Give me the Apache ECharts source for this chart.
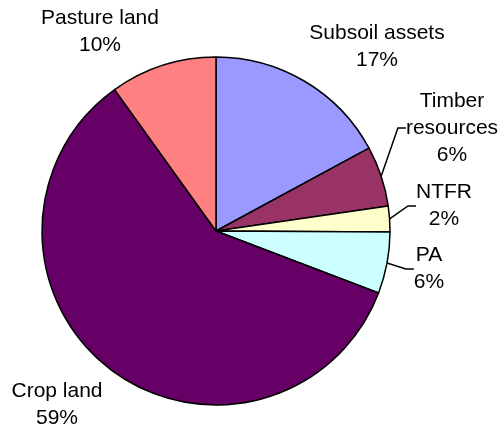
<!DOCTYPE html>
<html>
<head>
<meta charset="utf-8">
<script src="https://cdn.jsdelivr.net/npm/echarts@6/dist/echarts.min.js"></script>
<style>html,body{margin:0;padding:0;background:#fff;}#c{width:501px;height:428px;}</style>
</head>
<body>
<div id="c"></div>
<script>
var categories = ['Subsoil assets', 'Timber resources', 'NTFR', 'PA', 'Crop land', 'Pasture land'];
var values = [17.1, 5.6, 2.4, 5.7, 59.3, 9.9];
var colors = ['#9999FF', '#993366', '#FFFFCC', '#CCFFFF', '#660066', '#FF8080'];

var labelPos = [[377, 47], [452, 128], [444, 206], [429, 269], [57, 405], [100, 32]];
var withLine = [false, true, true, true, false, false];

var chart = echarts.init(document.getElementById('c'), null, {renderer: 'canvas'});
chart.setOption({
  animation: false,
  series: [{
    type: 'pie',
    center: [216, 231],
    radius: 174,
    startAngle: 90,
    clockwise: true,
    percentPrecision: 0,
    avoidLabelOverlap: false,
    data: categories.map(function (n, i) {
      return {
        name: n, value: values[i],
        itemStyle: {color: colors[i]},
        labelLine: {show: withLine[i]}
      };
    }),
    itemStyle: {borderColor: '#000', borderWidth: 1.5},
    label: {
      show: true,
      position: 'outside',
      fontFamily: 'Liberation Sans, Arial, sans-serif',
      fontSize: 21,
      lineHeight: 27,
      color: '#000',
      align: 'center',
      formatter: function (p) {
        var n = p.name === 'Timber resources' ? 'Timber\nresources' : p.name;
        return n + '\n' + p.percent + '%';
      }
    },
    labelLine: {lineStyle: {color: '#000', width: 1.5}, length: 10, length2: 8},
    labelLayout: function (p) {
      var pos = labelPos[p.dataIndex];
      return {x: pos[0], y: pos[1], align: 'center', verticalAlign: 'middle'};
    },
    emphasis: {disabled: true}
  }]
});
</script>
</body>
</html>
